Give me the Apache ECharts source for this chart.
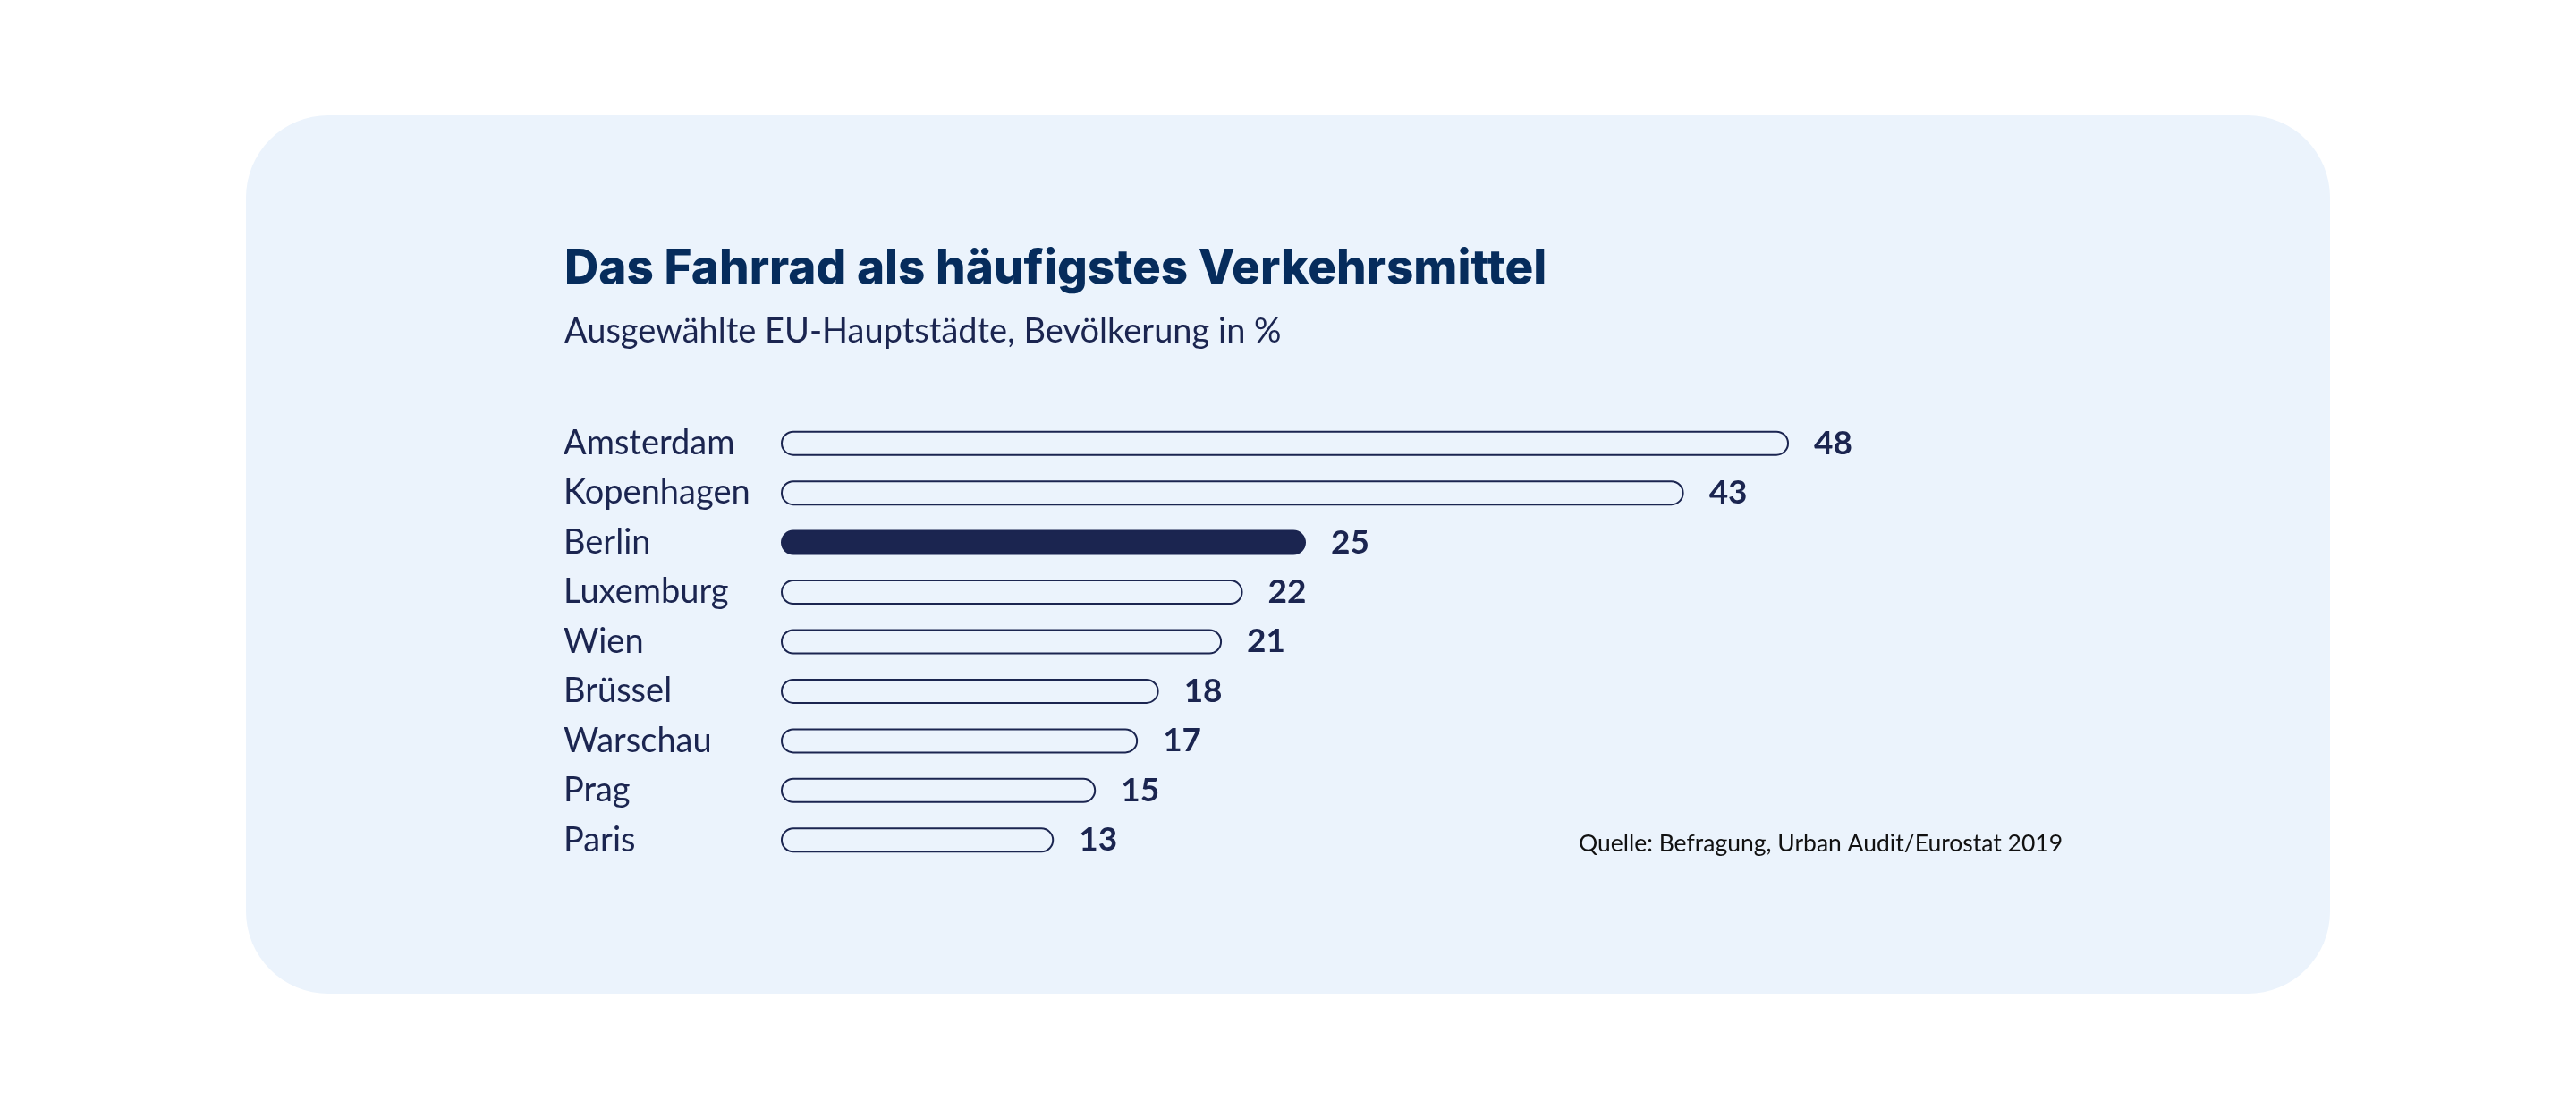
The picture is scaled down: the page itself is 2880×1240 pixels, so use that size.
<!DOCTYPE html>
<html>
<head>
<meta charset="utf-8">
<script src="https://cdn.jsdelivr.net/npm/echarts@6/dist/echarts.min.js"></script>
<style>
  html,body{margin:0;padding:0;background:#fff;}
  #chart{width:2880px;height:1240px;}
</style>
</head>
<body>
<div id="chart"></div>
<script>
// data
const cities = ["Amsterdam","Kopenhagen","Berlin","Luxemburg","Wien","Brüssel","Warschau","Prag","Paris"];
const shares = [48,43,25,22,21,18,17,15,13];
const highlight = "Berlin";

const navy = "#1B2550";
const panel = "#EBF3FC";

const chart = echarts.init(document.getElementById("chart"));

chart.setOption({
    backgroundColor:"#ffffff",
    graphic:[
        {
            type:"rect",
            z:-10,
            shape:{x:275,y:129,width:2330,height:982,r:92},
            style:{fill:panel}
        },
        {
            type:"text",
            left:1765,
            top:930,
            style:{
                text:"Quelle: Befragung, Urban Audit/Eurostat 2019",
                fontFamily:"Lato",
                fontSize:26.5,
                fill:"#111111"
            }
        }
    ],
    title:{
        text:"Das Fahrrad als häufigstes Verkehrsmittel",
        subtext:"Ausgewählte EU-Hauptstädte, Bevölkerung in %",
        left:626,
        top:270,
        itemGap:24,
        textStyle:{
            fontFamily:"Inter",
            fontWeight:800,
            fontSize:53,
            color:"#062C5C"
        },
        subtextStyle:{
            fontFamily:"Lato",
            fontSize:38,
            color:navy
        }
    },
    grid:{left:873,top:468,width:1174,height:499},
    xAxis:{
        type:"value",
        min:0,
        max:50,
        show:false
    },
    yAxis:{
        type:"category",
        data:cities,
        inverse:true,
        axisLine:{show:false},
        axisTick:{show:false},
        axisLabel:{
            align:"left",
            margin:243,
            fontFamily:"Lato",
            fontSize:38,
            color:navy
        }
    },
    series:[
        {
            type:"bar",
            barWidth:28,
            data:shares.map((v,i)=>({
                value:v,
                itemStyle:{
                    color:cities[i]===highlight?navy:panel
                }
            })),
            itemStyle:{
                borderColor:navy,
                borderWidth:2,
                borderRadius:14
            },
            label:{
                show:true,
                position:"right",
                distance:28,
                fontFamily:"Lato",
                fontWeight:"bold",
                fontSize:37,
                color:navy
            },
            silent:true
        }
    ]
});
</script>
</body>
</html>
